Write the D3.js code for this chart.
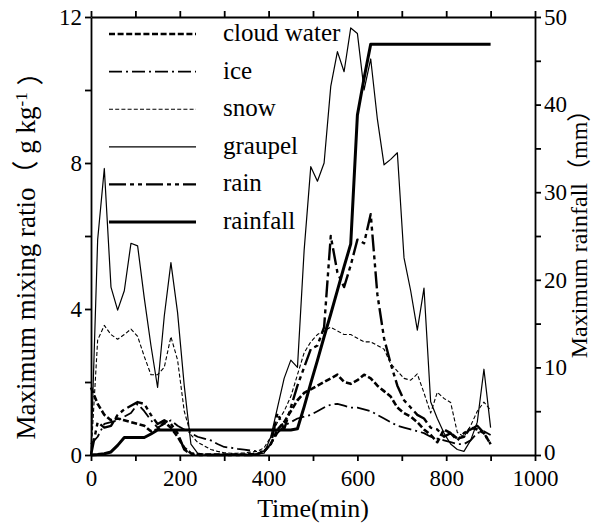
<!DOCTYPE html>
<html><head><meta charset="utf-8">
<script src="https://cdn.jsdelivr.net/npm/d3@7"></script>
<style>
body{margin:0;background:#fff}
svg text{font-family:"Liberation Serif","Times New Roman",Times,Tinos,"DejaVu Serif",serif;fill:#000}
</style>
</head><body>
<svg id="c" width="602" height="527"></svg>
<script>
// time (min)
const time = [0,15,30,45,60,75,90,105,120,135,
  150,165,180,195,210,225,240,255,270,285,
  300,315,330,345,360,375,390,405,420,435,
  450,465,480,495,510,525,540,555,570,585,
  600,615,630,645,660,675,690,705,720,735,
  750,765,780,795,810,825,840,855,870,885,900];
// maximum mixing ratio (g/kg)
const cloudWater = [1.85,1.4,1.1,0.95,1.0,0.95,0.9,0.85,0.8,0.65,
  0.7,0.9,0.75,0.5,0.2,0.05,0.02,0.01,0.01,0.01,
  0.01,0.01,0.01,0.01,0.02,0.03,0.1,0.3,0.7,0.9,
  1.2,1.5,1.7,1.8,1.9,2.0,2.1,2.2,2.0,1.95,
  2.05,2.2,2.1,1.9,1.75,1.6,1.3,1.15,1.05,0.9,
  0.7,0.55,0.35,0.7,0.6,0.45,0.5,0.75,0.7,0.6,0.3];
const ice = [0.3,0.5,0.85,0.9,0.95,1.05,1.15,1.4,1.2,0.95,
  0.75,0.85,0.95,0.8,0.7,0.6,0.5,0.45,0.4,0.3,
  0.22,0.2,0.17,0.15,0.12,0.1,0.1,0.3,0.6,0.8,
  0.9,1.0,1.05,1.1,1.2,1.3,1.38,1.4,1.35,1.3,
  1.3,1.25,1.2,1.1,1.0,0.9,0.8,0.75,0.7,0.65,
  0.6,0.5,0.45,0.4,0.35,0.3,0.3,0.4,0.6,0.65,0.55];
const snow = [0,3.15,3.55,3.3,3.17,3.3,3.45,3.25,2.7,2.2,
  2.2,2.4,3.24,2.6,1.2,0.55,0.35,0.25,0.15,0.1,
  0.06,0.05,0.05,0.06,0.08,0.1,0.2,0.5,0.9,1.2,
  1.6,2.2,2.8,3.1,3.3,3.4,3.5,3.4,3.3,3.3,
  3.2,3.1,3.1,3.0,2.9,2.5,2.3,2.1,2.05,2.22,
  1.7,1.15,1.72,1.55,1.44,0.62,0.5,0.8,1.2,1.45,1.23];
const graupel = [0,5.9,7.85,4.6,3.97,4.5,5.8,5.73,4.3,3.0,
  1.85,3.8,5.27,3.9,1.9,0.3,0.05,0.02,0.02,0.02,
  0.02,0.02,0.02,0.02,0.02,0.03,0.05,0.5,1.3,2.1,
  2.6,2.4,5.6,7.9,7.5,8.0,10.1,11.05,10.5,11.7,
  11.55,10.0,10.85,9.2,7.95,8.1,8.28,5.4,4.5,3.42,
  4.57,1.46,1.0,0.6,0.3,0.15,0.1,0.4,0.9,2.35,0.75];
const rain = [0,0.9,0.75,0.8,1.1,1.25,1.35,1.45,1.4,1.1,
  0.85,0.95,0.85,0.6,0.15,0.02,0,0,0,0,
  0,0,0,0,0,0.02,0.1,0.3,1.15,0.7,
  1.3,1.9,2.4,2.9,3.0,3.5,6.0,5.0,4.6,5.2,
  5.9,5.8,6.6,4.4,3.2,2.5,1.9,1.5,1.3,1.1,
  1.0,0.75,0.7,0.5,0.6,0.4,0.6,0.7,0.8,0.6,0.3];
// maximum rainfall (mm)
const rainfall = [0,0.05,0.15,0.35,1.1,2.0,2.0,2.0,2.0,2.4,
  2.85,2.85,2.85,2.85,2.85,2.85,2.85,2.85,2.85,2.85,
  2.85,2.85,2.85,2.85,2.85,2.85,2.85,2.85,2.85,2.85,
  2.85,3.0,5.5,8.2,10.8,13.5,16.1,18.8,21.5,24.1,
  38.8,43.0,46.9,46.9,46.9,46.9,46.9,46.9,46.9,46.9,
  46.9,46.9,46.9,46.9,46.9,46.9,46.9,46.9,46.9,46.9,46.9];

const xTicks = [0,200,400,600,800,1000];
const yLeftTicks = [0,4,8,12];
const yRightTicks = [0,10,20,30,40,50];
const legendNames = ["cloud water","ice","snow","graupel","rain","rainfall"];

const SERIF = '"Liberation Serif","Times New Roman",Times,Tinos,"DejaVu Serif",serif';
const svg = d3.select("#c");
const L = 91, R = 535, T = 17, B = 455;
const x = d3.scaleLinear().domain([0,1000]).range([L,R]);
const yL = d3.scaleLinear().domain([0,12]).range([B,T]);
const yR = d3.scaleLinear().domain([0,50]).range([B,T]);

const styles = {
  "cloud water": {w:2.6, dash:"6,2.6"},
  "ice": {w:1.8, dash:"13,4,2,4"},
  "snow": {w:1.1, dash:"4,2.2"},
  "graupel": {w:1.2, dash:null},
  "rain": {w:2.4, dash:"17,4,4,4,4,4"},
  "rainfall": {w:3, dash:null}
};
const seriesData = {
  "cloud water": cloudWater, "ice": ice, "snow": snow,
  "graupel": graupel, "rain": rain
};

function styleAxis(g){
  g.attr("font-family",SERIF);
  g.selectAll(".domain").attr("stroke","#000").attr("stroke-width",1.8);
  g.selectAll(".tick line").attr("stroke","#000").attr("stroke-width",1.8);
  g.selectAll(".tick text").style("font-family",SERIF).style("font-size","23px").attr("fill","#000");
}
// axes
const gb = svg.append("g").attr("transform",`translate(0,${B})`)
  .call(d3.axisBottom(x).tickValues(d3.range(0,1001,100)).tickSize(6).tickSizeOuter(0)
    .tickFormat(d=> xTicks.includes(d)? d : ""));
styleAxis(gb); gb.selectAll(".tick text").attr("y",15).attr("dy","0.71em");
const gt = svg.append("g").attr("transform",`translate(0,${T})`)
  .call(d3.axisTop(x).tickValues(d3.range(0,1001,100)).tickSize(6).tickSizeOuter(0).tickFormat(""));
styleAxis(gt);
const gl = svg.append("g").attr("transform",`translate(${L},0)`)
  .call(d3.axisLeft(yL).tickValues(d3.range(0,13,2)).tickSize(6).tickSizeOuter(0)
    .tickFormat(d=> yLeftTicks.includes(d)? d : ""));
styleAxis(gl); gl.selectAll(".tick text").attr("x",-9);
const gr = svg.append("g").attr("transform",`translate(${R},0)`)
  .call(d3.axisRight(yR).tickValues(d3.range(0,51,5)).tickSize(6).tickSizeOuter(0)
    .tickFormat(d=> yRightTicks.includes(d)? d : ""));
styleAxis(gr); gr.selectAll(".tick text").attr("x",9);
gr.selectAll(".tick text").filter(d=>d===0).attr("dy","0.2em");

// series
const lineL = d3.line().x((d,i)=>x(time[i])).y(d=>yL(d));
const lineR = d3.line().x((d,i)=>x(time[i])).y(d=>yR(d));
Object.keys(seriesData).forEach(k=>{
  const s = styles[k];
  svg.append("path").datum(seriesData[k]).attr("d",lineL)
    .attr("fill","none").attr("stroke","#000").attr("stroke-width",s.w)
    .attr("stroke-dasharray",s.dash).attr("stroke-linejoin","round");
});
svg.append("path").datum(rainfall).attr("d",lineR)
  .attr("fill","none").attr("stroke","#000").attr("stroke-width",styles.rainfall.w).attr("stroke-linejoin","round");

// legend
const lg = svg.append("g");
legendNames.forEach((n,i)=>{
  const yy = 34 + i*37.6;
  const s = styles[n];
  lg.append("line").attr("x1",109).attr("x2",196).attr("y1",yy).attr("y2",yy)
    .attr("stroke","#000").attr("stroke-width",s.w).attr("stroke-dasharray",s.dash);
  lg.append("text").attr("x",223).attr("y",yy+7).style("font-family",SERIF).style("font-size","25px").text(n);
});

// titles
svg.append("text").attr("x",(L+R)/2).attr("y",517).attr("text-anchor","middle")
  .style("font-family",SERIF).style("font-size","26px").text("Time(min)");
const tl = svg.append("text").attr("transform","translate(35,249) rotate(-90)")
  .attr("text-anchor","middle").style("font-family",SERIF).style("font-size","27px");
tl.append("tspan").text("Maximum mixing ratio");
tl.append("tspan").style("font-family",'"Noto Sans CJK SC"').text("（");
tl.append("tspan").text(" g kg");
tl.append("tspan").attr("dy","-0.45em").style("font-size","17px").text("-1");
tl.append("tspan").attr("dy","0.45em").text(" ");
tl.append("tspan").style("font-family",'"Noto Sans CJK SC"').text("）");
const tr = svg.append("text").attr("transform","translate(587,228) rotate(-90)")
  .attr("text-anchor","middle").style("font-family",SERIF).style("font-size","24px");
tr.append("tspan").text("Maximum rainfall");
tr.append("tspan").style("font-family",'"Noto Sans CJK SC"').text("（");
tr.append("tspan").text("mm");
tr.append("tspan").style("font-family",'"Noto Sans CJK SC"').text("）");
</script>
</body></html>
